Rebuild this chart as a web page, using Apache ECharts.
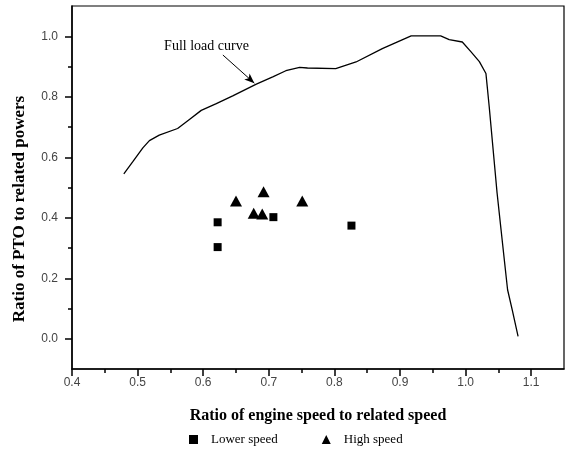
<!DOCTYPE html>
<html>
<head>
<meta charset="utf-8">
<script src="https://cdn.jsdelivr.net/npm/echarts@6/dist/echarts.min.js"></script>
<style>
  html, body { margin: 0; padding: 0; background: #fff; }
  #chart { width: 567px; height: 450px; }
</style>
</head>
<body>
<div id="chart"></div>
<script>
// full load curve
const curveX = [0.479, 0.493, 0.508, 0.518, 0.533, 0.561, 0.579, 0.597, 0.620, 0.645, 0.681, 0.706, 0.726, 0.747, 0.759, 0.802, 0.833, 0.873, 0.917, 0.962, 0.975, 0.995, 1.008, 1.021, 1.031, 1.033, 1.036, 1.048, 1.054, 1.059, 1.064, 1.071, 1.080]
const curveY = [0.545, 0.586, 0.631, 0.655, 0.673, 0.695, 0.725, 0.755, 0.777, 0.803, 0.842, 0.866, 0.886, 0.897, 0.895, 0.893, 0.915, 0.959, 1.001, 1.001, 0.989, 0.981, 0.949, 0.916, 0.877, 0.833, 0.767, 0.482, 0.361, 0.261, 0.162, 0.096, 0.008]

// PTO points
const lowerX = [0.622, 0.622, 0.707, 0.826]
const lowerY = [0.385, 0.303, 0.402, 0.374]
const highX = [0.650, 0.692, 0.677, 0.690, 0.751]
const highY = [0.455, 0.486, 0.415, 0.412, 0.455]

// ticks
const xTicks = [0.4, 0.5, 0.6, 0.7, 0.8, 0.9, 1.0, 1.1]
const xMinorTicks = [0.45, 0.55, 0.65, 0.75, 0.85, 0.95, 1.05]
const yTicks = [0, 0.2, 0.4, 0.6, 0.8, 1.0]
const yMinorTicks = [0.1, 0.3, 0.5, 0.7, 0.9]

// annotation
const noteText = 'Full load curve'
const notePos = [0.605, 0.966]
const arrowFrom = [0.630, 0.938]
const arrowTo = [0.678, 0.845]

const zip = (xs, ys) => xs.map((x, i) => [x, ys[i]])

const labelFont = { fontFamily: '"Liberation Sans", Arial, sans-serif', fontSize: 12, color: '#444' }
const serif = '"Liberation Serif", "Times New Roman", serif'
const black = '#000'

const myChart = echarts.init(document.getElementById('chart'))

const option = {
  animation: false,
  grid: {
    left: 72, top: 6, right: 3, bottom: 81,
    show: true, borderColor: black, borderWidth: 1.2
  },
  legend: {
    data: [{ name: 'Lower speed', icon: 'rect' }, { name: 'High speed', icon: 'triangle' }],
    left: 189,
    top: 433,
    padding: 0,
    itemWidth: 9,
    itemHeight: 9,
    itemGap: 44,
    itemStyle: { opacity: 1 },
    textStyle: {
      fontFamily: serif,
      fontSize: 13,
      color: black,
      width: 82,
      padding: [0, 0, 0, 8]
    }
  },
  xAxis: [
    {
      type: 'value',
      min: 0.4,
      max: 1.15,
      interval: 0.1,
      position: 'bottom',
      name: 'Ratio of engine speed to related speed',
      nameLocation: 'middle',
      nameGap: 39,
      nameTextStyle: {
        fontFamily: serif,
        fontSize: 16,
        fontWeight: 'bold',
        color: black
      },
      axisLine: { onZero: false, lineStyle: { color: black, width: 1.5 } },
      axisTick: { customValues: xTicks, length: 7, lineStyle: { color: black, width: 1.5 } },
      axisLabel: { customValues: xTicks, margin: 8, formatter: v => v.toFixed(1), ...labelFont },
      splitLine: { show: false }
    },
    {
      type: 'value',
      min: 0.4,
      max: 1.15,
      position: 'bottom',
      axisLine: { show: false, onZero: false },
      axisTick: { customValues: xMinorTicks, length: 4, lineStyle: { color: black, width: 1.5 } },
      axisLabel: { show: false },
      splitLine: { show: false }
    }
  ],
  yAxis: [
    {
      type: 'value',
      min: -0.1,
      max: 1.1,
      interval: 0.1,
      position: 'left',
      axisLine: { show: true, onZero: false, lineStyle: { color: black, width: 1.5 } },
      axisTick: { show: true, customValues: yTicks, length: 7, lineStyle: { color: black, width: 1.5 } },
      axisLabel: { customValues: yTicks, margin: 14, formatter: v => v.toFixed(1), ...labelFont },
      splitLine: { show: false }
    },
    {
      type: 'value',
      min: -0.1,
      max: 1.1,
      position: 'left',
      axisLine: { show: false, onZero: false },
      axisTick: { show: true, customValues: yMinorTicks, length: 4, lineStyle: { color: black, width: 1.5 } },
      axisLabel: { show: false },
      splitLine: { show: false }
    }
  ],
  graphic: [
    {
      type: 'text',
      x: 20,
      y: 209,
      rotation: Math.PI / 2,
      style: {
        text: 'Ratio of PTO to related powers',
        font: 'bold 17px "Liberation Serif", "Times New Roman", serif',
        fill: black,
        textAlign: 'center',
        textVerticalAlign: 'middle'
      }
    }
  ],
  series: [
    {
      name: 'Full load curve',
      type: 'line',
      data: zip(curveX, curveY),
      showSymbol: false,
      symbol: 'none',
      lineStyle: { color: black, width: 1.3 },
      silent: true,
      markLine: {
        silent: true,
        symbol: ['none', 'arrow'],
        symbolSize: [6, 10],
        label: { show: false },
        lineStyle: { color: black, width: 1, type: 'solid' },
        data: [[{ coord: arrowFrom }, { coord: arrowTo }]]
      },
      markPoint: {
        silent: true,
        symbol: 'circle',
        symbolSize: 0,
        label: {
          show: true,
          position: 'inside',
          formatter: noteText,
          fontFamily: serif,
          fontSize: 14,
          color: black
        },
        data: [{ coord: notePos }]
      }
    },
    {
      name: 'Lower speed',
      type: 'scatter',
      data: zip(lowerX, lowerY),
      symbol: 'rect',
      symbolSize: 8,
      itemStyle: { color: black, opacity: 1 }
    },
    {
      name: 'High speed',
      type: 'scatter',
      data: zip(highX, highY),
      symbol: 'triangle',
      symbolSize: [12, 11],
      itemStyle: { color: black, opacity: 1 }
    }
  ]
}

myChart.setOption(option)
</script>
</body>
</html>
